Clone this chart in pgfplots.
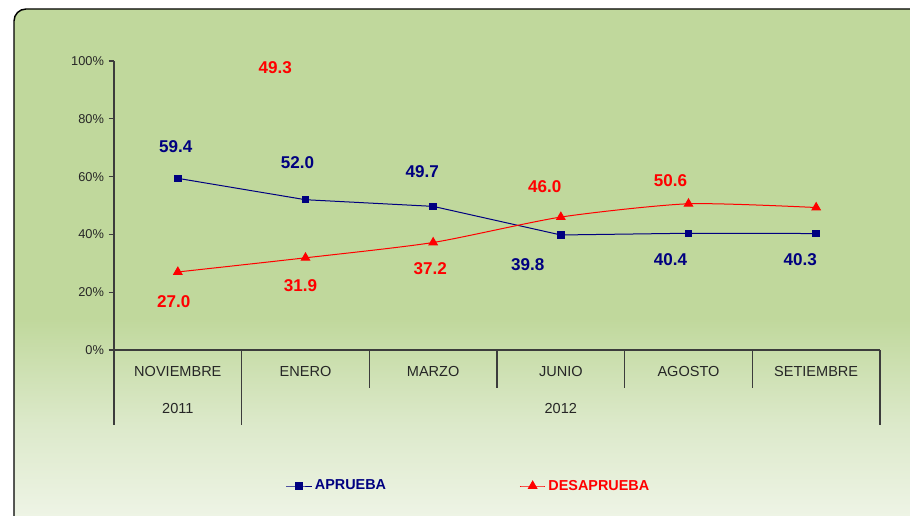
\documentclass[border=0pt]{standalone}
\usepackage{pgfplots}
\pgfplotsset{compat=1.18}
\usepackage{pgfplotstable}
\usepackage{fontspec}
\setmainfont{Liberation Sans}
\definecolor{bggreen}{RGB}{192,216,156}
\definecolor{bgmid}{RGB}{220,233,202}
\definecolor{bglight}{RGB}{243,247,237}
\definecolor{navyb}{RGB}{0,0,128}
\definecolor{redd}{RGB}{255,0,0}
\definecolor{axgray}{RGB}{60,60,60}
\pgfdeclareverticalshading{bgshade}{100bp}{color(0bp)=(bglight); color(25bp)=(bglight); color(36bp)=(bgmid); color(46bp)=(bggreen); color(100bp)=(bggreen)}

\pgfplotstableread{
x y dx dy lbl
0.5 59.4 -1.5 24 59.4
1.5 52.0 -6 27.75 52.0
2.5 49.7 -8.25 26.25 49.7
3.5 39.8 -24.75 -22.5 39.8
4.5 40.4 -13.5 -19.5 40.4
5.5 40.3 -12 -19.5 40.3
}\aprueba

\pgfplotstableread{
x y dx dy lbl
0.5 27.0 -3 -22.5 27.0
1.5 31.9 -3.75 -21 31.9
2.5 37.2 -2.25 -19.5 37.2
3.5 46.0 -12 22.5 46.0
4.5 50.6 -13.5 17.25 50.6
5.5 49.3 -405.75 105 49.3
}\desaprueba

\begin{document}
\begin{tikzpicture}
\useasboundingbox (0pt,0pt) rectangle (682.5pt,386.25pt);
\begin{scope}
\clip (0pt,0pt) rectangle (682.5pt,386.25pt);
\shadedraw[shading=bgshade, draw=black, line width=1.1pt, rounded corners=9pt] (10.5pt,-20pt) rectangle (720pt,379.5pt);
\end{scope}
\begin{axis}[
  at={(85.5pt,123.75pt)}, anchor=south west,
  scale only axis, width=574.5pt, height=216.75pt,
  xmin=0, xmax=6, ymin=0, ymax=100,
  axis x line=bottom, axis y line=left,
  axis line style={axgray, line width=0.8pt, -},
  xtick=\empty,
  ytick={0,20,...,100},
  yticklabel={\pgfmathprintnumber{\tick}\%},
  /pgf/number format/assume math mode=true,
  tick align=outside, major tick length=4pt,
  ytick style={axgray, line width=0.8pt},
  yticklabel style={font=\fontsize{9.6}{11}\selectfont, text=black!85},
  clip=false,
  legend columns=2,
  legend image code/.code={\draw[#1, mark repeat=2, mark phase=2] plot coordinates {(0pt,0pt) (9.5pt,0pt) (19pt,0pt)};},
  legend style={at={(0.4634,-0.4706)}, anchor=center, draw=none, fill=none,
    /tikz/every even column/.append style={column sep=98pt},
    font=\bfseries\fontsize{10.8}{12}\selectfont},
]
\addplot[navyb, line width=0.75pt, mark=square*, mark size=2.4pt, mark options={solid},
  point meta=explicit symbolic, nodes near coords,
  visualization depends on={\thisrow{dx} \as \dx},
  visualization depends on={\thisrow{dy} \as \dy},
  every node near coord/.append style={anchor=center, xshift=\dx, yshift=\dy,
    font=\bfseries\fontsize{12.8}{14}\selectfont, text=navyb}]
  table[x=x, y=y, meta=lbl] {\aprueba};
\addlegendentry{\textcolor{navyb}{APRUEBA}}
\addplot[redd, line width=0.75pt, smooth, tension=0.4, mark=triangle*, mark size=3.6pt, mark options={solid},
  point meta=explicit symbolic, nodes near coords,
  visualization depends on={\thisrow{dx} \as \dx},
  visualization depends on={\thisrow{dy} \as \dy},
  every node near coord/.append style={anchor=center, xshift=\dx, yshift=\dy,
    font=\bfseries\fontsize{12.8}{14}\selectfont, text=redd}]
  table[x=x, y=y, meta=lbl] {\desaprueba};
\addlegendentry{\textcolor{redd}{DESAPRUEBA}}
% category separators
\draw[axgray, line width=0.8pt] (axis cs:0,0) -- ++(0pt,-56.25pt);
\draw[axgray, line width=0.8pt] (axis cs:1,0) -- ++(0pt,-56.25pt);
\draw[axgray, line width=0.8pt] (axis cs:2,0) -- ++(0pt,-28.5pt);
\draw[axgray, line width=0.8pt] (axis cs:3,0) -- ++(0pt,-28.5pt);
\draw[axgray, line width=0.8pt] (axis cs:4,0) -- ++(0pt,-28.5pt);
\draw[axgray, line width=0.8pt] (axis cs:5,0) -- ++(0pt,-28.5pt);
\draw[axgray, line width=0.8pt] (axis cs:6,0) -- ++(0pt,-56.25pt);
\begin{scope}[every node/.style={font=\fontsize{10.9}{12}\selectfont, text=black!85}]
\node at (axis cs:0.5,0) [yshift=-16pt] {NOVIEMBRE};
\node at (axis cs:1.5,0) [yshift=-16pt] {ENERO};
\node at (axis cs:2.5,0) [yshift=-16pt] {MARZO};
\node at (axis cs:3.5,0) [yshift=-16pt] {JUNIO};
\node at (axis cs:4.5,0) [yshift=-16pt] {AGOSTO};
\node at (axis cs:5.5,0) [yshift=-16pt] {SETIEMBRE};
\node at (axis cs:0.5,0) [yshift=-44pt] {2011};
\node at (axis cs:3.5,0) [yshift=-44pt] {2012};
\end{scope}
\end{axis}
\end{tikzpicture}
\end{document}
